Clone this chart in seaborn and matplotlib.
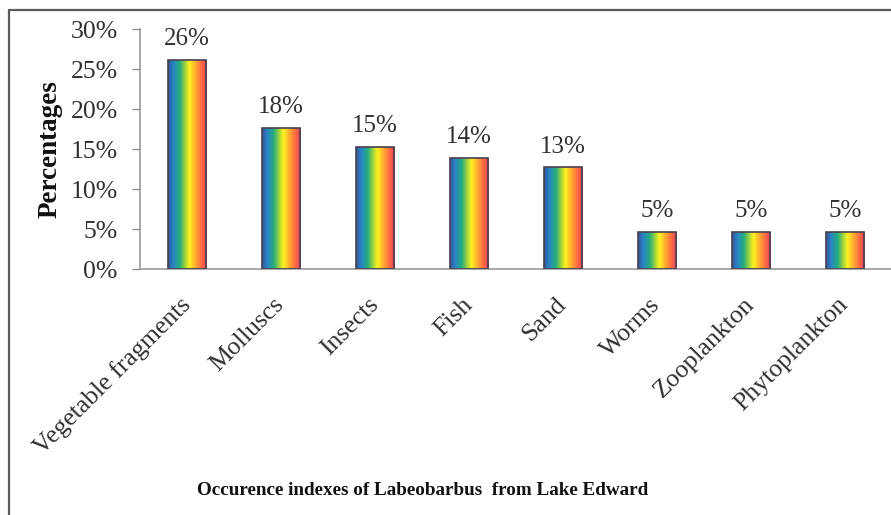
import numpy as np
import pandas as pd
import matplotlib
matplotlib.use("Agg")
import matplotlib.pyplot as plt
from matplotlib.colors import LinearSegmentedColormap
from matplotlib.lines import Line2D
import seaborn as sns

# Occurrence index of each food item (percent)
categories = ["Vegetable fragments", "Molluscs", "Insects", "Fish", "Sand",
              "Worms", "Zooplankton", "Phytoplankton"]
occurrence = [26.2, 17.7, 15.3, 13.9, 12.75, 4.7, 4.7, 4.7]
y_ticks = [0, 5, 10, 15, 20, 25, 30]

df = pd.DataFrame({"item": categories, "pct": occurrence})

sns.set_theme(style="white")
plt.rcParams["font.family"] = ["Liberation Serif", "DejaVu Serif"]

fig = plt.figure(figsize=(8.91, 5.15), dpi=100)
ax = fig.add_axes([0.157, 0.477, 0.844, 0.466])

sns.barplot(data=df, x="item", y="pct", ax=ax, width=0.41,
            color="white", edgecolor="#4a4050", linewidth=1.2, zorder=3)

# rainbow fill across each bar
rainbow = LinearSegmentedColormap.from_list(
    "rainbow_bar",
    [(0.0, "#33549e"), (0.14, "#2a86c6"), (0.30, "#23ad7c"),
     (0.44, "#9fd43e"), (0.55, "#fff320"), (0.70, "#ffb030"),
     (0.86, "#ff6a40"), (1.0, "#de3f5c")])
grad = np.linspace(0, 1, 256).reshape(1, -1)
for patch in ax.patches:
    x0, y0 = patch.get_x(), patch.get_y()
    w, h = patch.get_width(), patch.get_height()
    im = ax.imshow(grad, cmap=rainbow, aspect="auto",
                   extent=[x0, x0 + w, y0, y0 + h], zorder=2,
                   interpolation="bicubic")
    im.set_clip_path(patch)
    patch.set_facecolor("none")

for i, v in enumerate(occurrence):
    ax.annotate(f"{v:.0f}%", (i, v), xytext=(0, 7), textcoords="offset points",
                ha="center", va="bottom", fontsize=18, color="#303030")

ax.set_xlim(-0.5, len(categories) - 0.5)
ax.set_ylim(0, 30)
ax.set_yticks(y_ticks)
ax.set_yticklabels([f"{t}%" for t in y_ticks], fontsize=18.5, color="#303030")
ax.tick_params(axis="y", which="both", left=True, length=6, width=1,
               color="#909090", pad=10)
ax.tick_params(axis="x", bottom=False, pad=17)
for lab in ax.get_xticklabels():
    lab.set_rotation(45)
    lab.set_ha("right")
    lab.set_va("center")
    lab.set_rotation_mode("anchor")
    lab.set_fontsize(18.5)
    lab.set_color("#303030")

for side in ["top", "right"]:
    ax.spines[side].set_visible(False)
for side in ["left", "bottom"]:
    ax.spines[side].set_color("#9a9a9a")
    ax.spines[side].set_linewidth(1.2)

ax.set_xlabel("")
ax.set_ylabel("Percentages", fontsize=19.5, fontweight="bold", labelpad=6,
              color="#111111")
fig.text(0.474, 0.047, "Occurence indexes of Labeobarbus  from Lake Edward",
         ha="center", va="center", fontsize=13.8, fontweight="bold",
         color="#111111")

# outer frame (top and left edges)
fig.add_artist(Line2D([0.010, 1.0], [0.980, 0.980], transform=fig.transFigure,
                      color="#5a5a5a", linewidth=1.6))
fig.add_artist(Line2D([0.010, 0.010], [0.0, 0.980], transform=fig.transFigure,
                      color="#5a5a5a", linewidth=1.6))

fig.savefig("out.png", dpi=100)
